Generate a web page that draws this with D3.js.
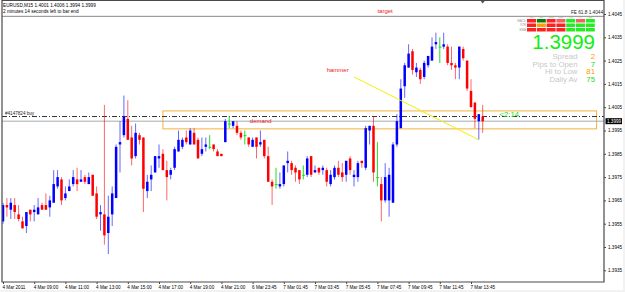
<!DOCTYPE html>
<html>
<head>
<meta charset="utf-8">
<script src="https://cdnjs.cloudflare.com/ajax/libs/d3/7.8.5/d3.min.js"></script>
<style>
  body { margin: 0; background: #fff; }
  svg { display: block; font-family: "Liberation Sans", Arial, sans-serif; }
</style>
</head>
<body>
<div id="chart"></div>
<script>
// EURUSD M15, 124 bars, prices
const open = [
  1.3956,1.3963,1.3961,1.3963,1.3959,1.3956,1.3954,1.3961,1.3960,1.3959,
  1.3963,1.3963,1.3962,1.3964,1.3971,1.3974,1.3966,1.3969,1.3972,1.3974,
  1.3973,1.3975,1.3972,1.3976,1.3968,1.3959,1.3959,1.3951,1.3959,1.3966,
  1.3989,1.3993,1.4000,1.3992,1.3984,1.3993,1.3992,1.3969,1.3974,1.3977,
  1.3983,1.3985,1.3978,1.3976,1.3979,1.3986,1.3988,1.3992,1.3989,1.3994,
  1.3991,1.3985,1.3988,1.3988,1.3989,1.3986,1.3985,1.3990,1.3998,1.3997,
  1.3997,1.3994,1.3993,1.3992,1.3988,1.3992,1.3989,1.3991,1.3984,1.3973,
  1.3972,1.3971,1.3972,1.3981,1.3981,1.3979,1.3978,1.3976,1.3976,1.3984,
  1.3977,1.3979,1.3978,1.3978,1.3972,1.3975,1.3979,1.3977,1.3976,1.3983,
  1.3975,1.3975,1.3982,1.3979,1.3995,1.3997,1.3975,1.3972,1.3965,1.3965,
  1.3964,1.3989,1.3996,1.4014,1.4022,1.4029,1.4020,1.4021,1.4018,1.4023,
  1.4025,1.4032,1.4031,1.4031,1.4031,1.4024,1.4023,1.4022,1.4030,1.4025,
  1.4012,1.4007,1.3999,1.4001
];
const high = [
  1.3964,1.3966,1.3966,1.3966,1.3963,1.3958,1.3960,1.3961,1.3963,1.3966,
  1.3964,1.3968,1.3967,1.3978,1.3978,1.3975,1.3971,1.3974,1.3978,1.3979,
  1.3978,1.3976,1.3977,1.3976,1.3971,1.3963,1.4006,1.3967,1.3971,1.3989,
  1.3999,1.4010,1.4008,1.3997,1.3998,1.3994,1.3992,1.3976,1.3980,1.3984,
  1.3989,1.3987,1.3982,1.3979,1.3988,1.3995,1.3992,1.3995,1.3996,1.3996,
  1.3992,1.3992,1.3992,1.3993,1.3989,1.3987,1.3985,1.4000,1.4001,1.3999,
  1.3999,1.3995,1.3995,1.3992,1.3992,1.3992,1.3995,1.3991,1.3988,1.3974,
  1.3979,1.3977,1.3980,1.3986,1.3982,1.3980,1.3978,1.3980,1.3984,1.3984,
  1.3980,1.3979,1.3980,1.3979,1.3978,1.3980,1.3982,1.3981,1.3982,1.3984,
  1.3978,1.3982,1.3982,1.3997,1.3997,1.4001,1.3990,1.3975,1.3981,1.3979,
  1.3990,1.4002,1.4017,1.4024,1.4032,1.4030,1.4024,1.4022,1.4025,1.4027,
  1.4035,1.4037,1.4035,1.4037,1.4032,1.4031,1.4024,1.4031,1.4031,1.4025,
  1.4017,1.4007,1.4002,1.4006
];
const low = [
  1.3955,1.3958,1.3957,1.3957,1.3956,1.3953,1.3951,1.3956,1.3956,1.3959,
  1.3961,1.3961,1.3958,1.3964,1.3970,1.3963,1.3965,1.3969,1.3971,1.3969,
  1.3973,1.3972,1.3972,1.3967,1.3957,1.3952,1.3946,1.3942,1.3954,1.3966,
  1.3977,1.3992,1.3991,1.3980,1.3983,1.3989,1.3960,1.3966,1.3969,1.3977,
  1.3979,1.3978,1.3965,1.3974,1.3978,1.3986,1.3987,1.3989,1.3989,1.3989,
  1.3983,1.3984,1.3986,1.3987,1.3986,1.3984,1.3984,1.3990,1.3996,1.3996,
  1.3993,1.3991,1.3989,1.3988,1.3988,1.3983,1.3988,1.3983,1.3973,1.3963,
  1.3970,1.3970,1.3971,1.3977,1.3976,1.3973,1.3972,1.3974,1.3975,1.3975,
  1.3977,1.3976,1.3976,1.3971,1.3971,1.3974,1.3975,1.3973,1.3973,1.3976,
  1.3971,1.3973,1.3979,1.3978,1.3989,1.3973,1.3971,1.3956,1.3964,1.3958,
  1.3964,1.3988,1.3996,1.4009,1.4022,1.4019,1.4018,1.4015,1.4017,1.4022,
  1.4025,1.4030,1.4024,1.4030,1.4023,1.4021,1.4017,1.4017,1.4025,1.4012,
  1.4005,1.3996,1.3991,1.3994
];
const close = [
  1.3963,1.3962,1.3964,1.3960,1.3957,1.3953,1.3960,1.3959,1.3961,1.3962,
  1.3961,1.3961,1.3965,1.3972,1.3975,1.3965,1.3968,1.3971,1.3975,1.3972,
  1.3974,1.3973,1.3975,1.3967,1.3958,1.3960,1.3950,1.3958,1.3968,1.3988,
  1.3990,1.4001,1.3991,1.3983,1.3994,1.3991,1.3970,1.3973,1.3976,1.3984,
  1.3984,1.3978,1.3975,1.3978,1.3987,1.3991,1.3991,1.3990,1.3995,1.3989,
  1.3983,1.3987,1.3989,1.3988,1.3987,1.3984,1.3984,1.3999,1.3998,1.3999,
  1.3994,1.3992,1.3993,1.3989,1.3991,1.3988,1.3990,1.3984,1.3973,1.3971,
  1.3972,1.3972,1.3980,1.3982,1.3978,1.3977,1.3974,1.3976,1.3983,1.3976,
  1.3978,1.3977,1.3979,1.3973,1.3976,1.3979,1.3976,1.3975,1.3982,1.3978,
  1.3976,1.3981,1.3981,1.3996,1.3997,1.3977,1.3975,1.3965,1.3975,1.3976,
  1.3989,1.3999,1.4013,1.4023,1.4028,1.4021,1.4022,1.4017,1.4024,1.4027,
  1.4031,1.4033,1.4031,1.4032,1.4024,1.4023,1.4022,1.4031,1.4026,1.4013,
  1.4005,1.4000,1.4002,1.3999
];

// time axis: a label every 8 bars
const timeIdx = [0, 8, 16, 24, 32, 40, 48, 56, 64, 72, 80, 88, 96, 104, 112, 120];
const timeLabels = ['4 Mar 2011', '4 Mar 09:00', '4 Mar 11:00', '4 Mar 13:00', '4 Mar 15:00',
  '4 Mar 17:00', '4 Mar 19:00', '4 Mar 21:00', '6 Mar 23:45', '7 Mar 01:45', '7 Mar 03:45',
  '7 Mar 05:45', '7 Mar 07:45', '7 Mar 09:45', '7 Mar 11:45', '7 Mar 13:45'];
const priceTicks = [1.4045, 1.4035, 1.4025, 1.4015, 1.4005, 1.3995, 1.3985, 1.3975, 1.3965, 1.3955, 1.3945, 1.3935];

// objects on the chart
const bid = 1.3999;
const orderPrice = 1.4001;
const fePrice = 1.4044;
const zone = [41, 152.2, 1.40034, 1.39957];      // bar from, bar to, top, bottom
const trend = [[90, 1.4018], [122, 1.3991]];
const notes = [['target', 96, 1.40454], ['hammer', 83, 1.40201], ['demand', 63.3, 1.39983]];

// info panel
const panelCols = ['M1', 'M5', 'M15', 'M30', 'H1', 'H4', 'D1'];
const panelRows = ['MACD', 'STR', 'EMA'];
const macdCells = ['#ff2020', '#0b7a0b', '#ff2020', '#f26060', '#22ee22', '#f26060', '#22ee22'];
const strCells = ['#ff2020', '#ffa000', '#ff2020', '#ff2020', '#22ee22', '#22ee22', '#22ee22'];
const emaCells = ['#ff2020', '#ff2020', '#ff2020', '#ff2020', '#22ee22', '#22ee22', '#22ee22'];
const statLabels = ['Spread', 'Pips to Open', 'Hi to Low', 'Daily Av'];
const statValues = [2, 7, 81, 75];
const statColors = ['#ff9900', '#22dd22', '#ff9900', '#22dd22'];

const W = 625, H = 292;
const L = 2, R = 604, T = 0.5, B = 282;

const svg = d3.select('#chart').append('svg')
  .attr('width', W)
  .attr('height', H);

svg.append('rect').attr('width', W).attr('height', H).attr('fill', '#f2f2f2');
svg.append('rect').attr('width', 623).attr('height', 290).attr('fill', '#fff');

svg.append('clipPath').attr('id', 'plot')
  .append('rect').attr('x', L).attr('y', T).attr('width', R - L).attr('height', B - T);

const x = d3.scaleLinear().domain([0, 123]).range([3, 482.7]);
const y = d3.scaleLinear().domain([1.3935, 1.4045]).range([270.3, 14]);

const plot = svg.append('g').attr('clip-path', 'url(#plot)');

// fibo expansion level
plot.append('line')
  .attr('x1', L).attr('x2', R)
  .attr('y1', y(fePrice)).attr('y2', y(fePrice))
  .attr('stroke', '#8a8a8a')

// demand zone
plot.append('rect')
  .attr('x', x(zone[0])).attr('y', y(zone[2]))
  .attr('width', x(zone[1]) - x(zone[0]))
  .attr('height', y(zone[3]) - y(zone[2]))
  .attr('fill', 'none')
  .attr('stroke', '#f4b23c')

// order line and bid line
plot.append('line')
  .attr('x1', L).attr('x2', R)
  .attr('y1', y(orderPrice)).attr('y2', y(orderPrice))
  .attr('stroke', '#333')
  .attr('stroke-dasharray', '5,2,1,2')

plot.append('line')
  .attr('x1', L).attr('x2', R)
  .attr('y1', y(bid)).attr('y2', y(bid))
  .attr('stroke', '#a3abb3')

plot.append('text')
  .attr('x', 5).attr('y', y(orderPrice) - 1.2)
  .attr('font-size', 4.6)
  .attr('fill', '#222')
  .text('#4147824 buy')

// candles
const bars = open.map((o, i) => ({ i, o, h: high[i], l: low[i], c: close[i] }));
const colour = d => d.c > d.o ? '#0000ff' : d.c < d.o ? '#ff0000' : '#22dd22';

let candle = plot.selectAll('g.bar')
  .data(bars)
  .enter()
  .append('g')
  .attr('class', 'bar')

candle.append('line')
  .attr('x1', d => x(d.i)).attr('x2', d => x(d.i))
  .attr('y1', d => y(d.h)).attr('y2', d => y(d.l))
  .attr('stroke', colour)
  .attr('stroke-opacity', d => d.c === d.o ? 1 : 0.6)

candle.append('rect')
  .attr('x', d => x(d.i) - 1.25)
  .attr('width', d => d.c === d.o ? 3 : 2.5)
  .attr('y', d => y(Math.max(d.o, d.c)))
  .attr('height', d => Math.max(1, y(Math.min(d.o, d.c)) - y(Math.max(d.o, d.c))))
  .attr('fill', colour)

// trend line
plot.append('line')
  .attr('x1', x(trend[0][0])).attr('y1', y(trend[0][1]))
  .attr('x2', x(trend[1][0])).attr('y2', y(trend[1][1]))
  .attr('stroke', '#f2f200')

plot.selectAll('text.note')
  .data(notes)
  .enter()
  .append('text')
  .attr('class', 'note')
  .attr('x', d => x(d[1])).attr('y', d => y(d[2]))
  .attr('font-size', 6)
  .attr('fill', '#ee2020')
  .text(d => d[0])

// time left to bar end
plot.append('text')
  .attr('x', x(127.3)).attr('y', y(1.40008))
  .attr('font-size', 7.8)
  .attr('fill', '#22dd22')
  .text('<2:14')

// chart shift marker
svg.append('path')
  .attr('d', `M${x(123) - 2},1 h4 l-2,2.5 z`)
  .attr('fill', '#555')

// header
svg.append('text').attr('x', 3).attr('y', 6.5).attr('font-size', 4.7).attr('fill', '#000')
  .text('EURUSD,M15  1.4001 1.4006 1.3994 1.3999')
svg.append('text').attr('x', 3).attr('y', 12.5).attr('font-size', 4.7).attr('fill', '#000')
  .text('2 minutes 14 seconds left to bar end')

// info panel
const panel = svg.append('g')
panel.append('text')
  .attr('x', 603).attr('y', 14)
  .attr('text-anchor', 'end')
  .attr('font-size', 4.7)
  .attr('fill', '#222')
  .text('FE 61.8 1.4044')

panel.selectAll('text.col')
  .data(panelCols)
  .enter()
  .append('text')
  .attr('class', 'col')
  .attr('x', (d, i) => 531.5 + i * 9.8).attr('y', 18.1)
  .attr('text-anchor', 'middle')
  .attr('font-size', 2.5)
  .attr('fill', '#999')
  .text(d => d)

const cellRows = [macdCells, strCells, emaCells];
cellRows.forEach((row, r) => {
  panel.append('text')
    .attr('x', 526).attr('y', 21.7 + r * 4.5)
    .attr('text-anchor', 'end')
    .attr('font-size', 3)
    .attr('fill', '#999')
    .text(panelRows[r])
  panel.selectAll('rect.r' + r)
    .data(row)
    .enter()
    .append('rect')
    .attr('class', 'r' + r)
    .attr('x', (d, i) => 527 + i * 9.8).attr('y', 19 + r * 4.5)
    .attr('width', 9).attr('height', 3.5)
    .attr('fill', d => d)
})

panel.append('text')
  .attr('x', 595).attr('y', 49)
  .attr('text-anchor', 'end')
  .attr('font-size', 20.5)
  .attr('fill', '#11ee11')
  .text(d3.format('.4f')(bid))

// stats rows, a little stretched sideways like the terminal font
statLabels.forEach((s, i) => {
  const yy = 59.4 + i * 7.4
  panel.append('text')
    .attr('transform', `translate(577.5,${yy}) scale(1.2,1)`)
    .attr('text-anchor', 'end')
    .attr('font-size', 6.5)
    .attr('fill', '#c8c8c8')
    .text(s)
  panel.append('text')
    .attr('transform', `translate(595,${yy}) scale(1.2,1)`)
    .attr('text-anchor', 'end')
    .attr('font-size', 6.5)
    .attr('fill', statColors[i])
    .text(statValues[i])
})

// axes
const yAxis = svg.append('g')
  .attr('transform', `translate(${R},0)`)
  .call(d3.axisRight(y).tickValues(priceTicks).tickSize(2).tickPadding(2).tickFormat(d3.format('.4f')))
yAxis.select('.domain').remove()
yAxis.selectAll('text').attr('font-size', 4.6).attr('fill', '#000')
yAxis.selectAll('line').attr('stroke', '#444')

const xAxis = svg.append('g')
  .attr('transform', `translate(0,${B})`)
  .call(d3.axisBottom(x).tickValues(timeIdx).tickSize(2).tickPadding(1.5).tickFormat((d, i) => timeLabels[i]))
xAxis.select('.domain').remove()
xAxis.selectAll('text').attr('font-size', 4.6).attr('fill', '#000').attr('text-anchor', 'start').attr('dx', -1)
xAxis.selectAll('line').attr('stroke', '#444')

// current price box
svg.append('rect')
  .attr('x', R + 1.5).attr('y', y(bid) - 3)
  .attr('width', 16.5).attr('height', 6)
  .attr('fill', '#000')
svg.append('text')
  .attr('x', R + 3).attr('y', y(bid) + 1.7)
  .attr('font-size', 4.6)
  .attr('fill', '#fff')
  .text(d3.format('.4f')(bid))

// frame
svg.append('path')
  .attr('d', `M${L},${T} H${R} V${B} H${L} Z`)
  .attr('fill', 'none')
  .attr('stroke', '#4a4a4a')
  .attr('stroke-width', 1.2)
</script>
</body>
</html>
